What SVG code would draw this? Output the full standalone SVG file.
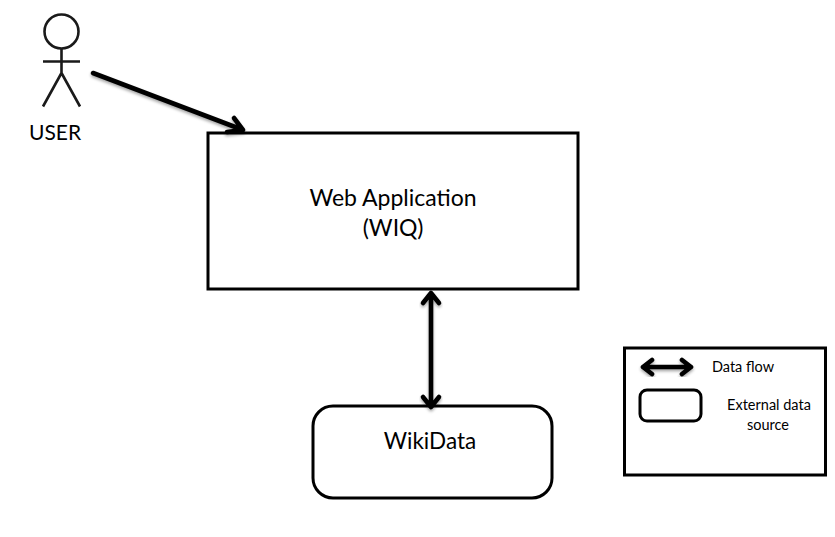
<svg xmlns="http://www.w3.org/2000/svg" width="835" height="537" viewBox="0 0 835 537">
<style>
.box{fill:#fff;stroke:#000;stroke-width:3}
.stick{fill:none;stroke:#1a1a1a;stroke-width:2.6}
.flow{fill:none;stroke:#000;stroke-width:4.600;stroke-linecap:round;stroke-linejoin:round;filter:url(#sh)}
.t{font-family:Lato,"Liberation Sans",sans-serif;fill:#000;text-anchor:middle}
.big{font-size:23px}
.small{font-size:14.500px}
</style>
<defs>
<filter id="sh" x="-20%" y="-20%" width="140%" height="140%"><feDropShadow dx="0" dy="2" stdDeviation="1.500" flood-color="#000" flood-opacity="0.35"/></filter>
</defs>
<rect width="835" height="537" fill="#fff"/>
<g id="user">
<circle class="stick" cx="61.500" cy="31.500" r="17"/>
<path class="stick" d="M61.500 49V73M43 61.500H80M61.500 73L43 106.500M61.500 73L80 106.500"/>
<text class="t" font-size="21" x="55" y="140">USER</text>
</g>
<g id="web-app">
<rect class="box" x="208" y="133" width="370" height="156"/>
<text class="t big" x="393" y="206">Web Application</text>
<text class="t big" x="393" y="236">(WIQ)</text>
</g>
<g id="wikidata">
<rect class="box" x="313" y="406" width="239" height="92" rx="20"/>
<text class="t" font-size="22.500" x="430" y="449">WikiData</text>
</g>
<g id="connectors">
<path class="flow" d="M93 73L243 130M234 118L243 130L227 132"/>
<path class="flow" d="M431 293V407M423 303L431 293L439 303M423 397L431 407L439 397"/>
</g>
<g id="legend">
<rect class="box" x="624.500" y="348" width="201" height="127"/>
<path class="flow" d="M643 367H691M652 360L643 367L652 374M682 360L691 367L682 374"/>
<text class="t small" x="743" y="372">Data flow</text>
<rect class="box" x="640" y="390" width="61" height="31" rx="7"/>
<text class="t small" x="769" y="410">External data</text>
<text class="t small" x="768" y="430">source</text>
</g>
</svg>
